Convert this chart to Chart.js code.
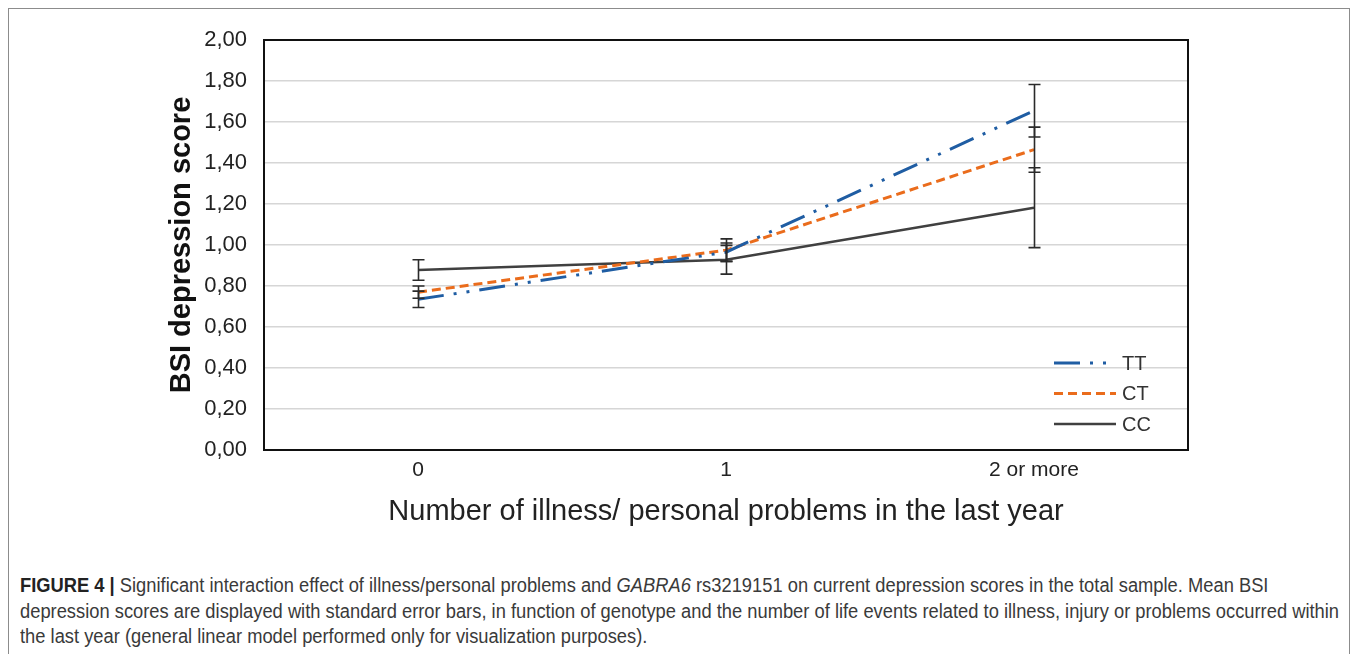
<!DOCTYPE html>
<html>
<head>
<meta charset="utf-8">
<script src="https://cdn.jsdelivr.net/npm/chart.js@4.4.1/dist/chart.umd.min.js"></script>
<style>
  html, body { margin: 0; padding: 0; background: #fff; width: 1357px; height: 654px; overflow: hidden; }
  #frame { position: absolute; left: 8px; top: 8px; width: 1342px; height: 720px; border: 1px solid #8c8c8c; box-sizing: border-box; }
  #wrap { position: absolute; left: 0; top: 0; width: 1357px; height: 548px; }
  #caption {
    position: absolute; left: 20px; top: 573px;
    font-family: "Liberation Sans", Arial, sans-serif;
    font-size: 19.5px; line-height: 25.5px; color: #3a3a3a; white-space: nowrap;
    transform-origin: 0 0;
  }
  #caption span { display: block; width: max-content; }
  #caption b { color: #222; }
</style>
</head>
<body>
<div id="frame"></div>
<div id="wrap"><canvas id="chart" width="1357" height="548"></canvas></div>
<div id="caption">
  <span><b>FIGURE 4 |</b> Significant interaction effect of illness/personal problems and <i>GABRA6</i> rs3219151 on current depression scores in the total sample. Mean BSI</span>
  <span id="capLong">depression scores are displayed with standard error bars, in function of genotype and the number of life events related to illness, injury or problems occurred within</span>
  <span>the last year (general linear model performed only for visualization purposes).</span>
</div>
<script>
// Number of illness / personal problems in the last year
const categories = ['0', '1', '2 or more'];

// Mean BSI depression score per genotype, with standard errors
const ttMeans  = [0.735, 0.965, 1.655];
const ttErrors = [0.040, 0.045, 0.128];
const ctMeans  = [0.770, 0.975, 1.465];
const ctErrors = [0.030, 0.055, 0.110];
const ccMeans  = [0.878, 0.928, 1.182];
const ccErrors = [0.050, 0.070, 0.195];

const yMin = 0, yMax = 2, yStep = 0.2;

const axisFont = '"Liberation Sans", Arial, sans-serif';

// Caption set in a condensed style: squeeze the text so the longest line spans the column
(function fitCaption() {
  const cap = document.getElementById('caption');
  const w = document.getElementById('capLong').getBoundingClientRect().width;
  const target = 1319;
  if (w > 0) cap.style.transform = 'scaleX(' + (target / w).toFixed(4) + ')';
})();

// Standard error whiskers with caps
const errorBars = {
  id: 'errorBars',
  afterDatasetsDraw(chart) {
    const { ctx, scales: { x, y } } = chart;
    ctx.save();
    ctx.strokeStyle = '#2a2a2a';
    ctx.lineWidth = 1.6;
    ctx.setLineDash([]);
    chart.data.datasets.forEach(ds => {
      ds.data.forEach((v, i) => {
        const e = ds.errors[i];
        const px = Math.round(x.getPixelForValue(i)) + 0.5;
        const top = y.getPixelForValue(v + e);
        const bot = y.getPixelForValue(v - e);
        ctx.beginPath();
        ctx.moveTo(px, top); ctx.lineTo(px, bot);
        ctx.moveTo(px - 6, top); ctx.lineTo(px + 6, top);
        ctx.moveTo(px - 6, bot); ctx.lineTo(px + 6, bot);
        ctx.stroke();
      });
    });
    ctx.restore();
  }
};

// Black box around the plotting area
const plotFrame = {
  id: 'plotFrame',
  beforeDatasetsDraw(chart) {
    const { ctx, chartArea: a } = chart;
    ctx.save();
    ctx.strokeStyle = '#111';
    ctx.lineWidth = 2;
    ctx.strokeRect(a.left, a.top, a.right - a.left, a.bottom - a.top);
    ctx.restore();
  }
};

// Legend inside the plot, lower right
const innerLegend = {
  id: 'innerLegend',
  afterDraw(chart) {
    const { ctx, chartArea: a } = chart;
    const x0 = a.right - 134, x1 = a.right - 72, tx = a.right - 66;
    const y0 = a.bottom - 87, gap = 30.5;
    ctx.save();
    chart.data.datasets.forEach((ds, i) => {
      const yy = y0 + i * gap;
      ctx.strokeStyle = ds.borderColor;
      ctx.lineWidth = ds.borderWidth;
      ctx.setLineDash(ds.borderDash || []);
      ctx.lineCap = 'butt';
      ctx.beginPath();
      ctx.moveTo(x0, yy); ctx.lineTo(x1, yy);
      ctx.stroke();
      ctx.setLineDash([]);
      ctx.fillStyle = '#333';
      ctx.font = '20px ' + axisFont;
      ctx.textBaseline = 'middle';
      ctx.textAlign = 'left';
      ctx.fillText(ds.label, tx, yy + 1);
    });
    ctx.restore();
  }
};

new Chart(document.getElementById('chart'), {
  type: 'line',
  data: {
    labels: categories,
    datasets: [
      { label: 'TT', data: ttMeans, errors: ttErrors, borderColor: '#1f5da3', borderWidth: 3,
        borderDash: [26, 10, 3, 10, 3, 10], pointRadius: 0, tension: 0, fill: false },
      { label: 'CT', data: ctMeans, errors: ctErrors, borderColor: '#ea6c1c', borderWidth: 3,
        borderDash: [9, 5], pointRadius: 0, tension: 0, fill: false },
      { label: 'CC', data: ccMeans, errors: ccErrors, borderColor: '#404040', borderWidth: 2.5,
        borderDash: [], pointRadius: 0, tension: 0, fill: false }
    ]
  },
  options: {
    responsive: false,
    animation: false,
    events: [],
    layout: { padding: { left: 0, top: 40, right: 169, bottom: 0 } },
    plugins: { legend: { display: false }, tooltip: { enabled: false } },
    scales: {
      x: {
        type: 'category',
        offset: true,
        grid: { display: false, drawTicks: false },
        border: { display: false },
        ticks: { color: '#222', font: { family: axisFont, size: 21 }, padding: 8, maxRotation: 0 },
        title: { display: true, text: 'Number of illness/ personal problems in the last year',
                 color: '#222', font: { family: axisFont, size: 29 }, padding: { top: 0, bottom: 19 } },
        afterFit(scale) { scale.height = 98; }
      },
      y: {
        min: yMin, max: yMax,
        grid: { color: '#d6d6d6', lineWidth: 1.5, drawTicks: false },
        border: { display: false },
        ticks: { stepSize: yStep, color: '#222', font: { family: axisFont, size: 22 }, padding: 17,
                 callback: v => v.toFixed(2).replace('.', ',') },
        title: { display: true, text: 'BSI depression score', color: '#111',
                 font: { family: axisFont, size: 29, weight: 'bold' }, padding: { top: 165, bottom: 0 } },
        afterFit(scale) { scale.width = 264; }
      }
    }
  },
  plugins: [plotFrame, errorBars, innerLegend]
});
</script>
</body>
</html>
